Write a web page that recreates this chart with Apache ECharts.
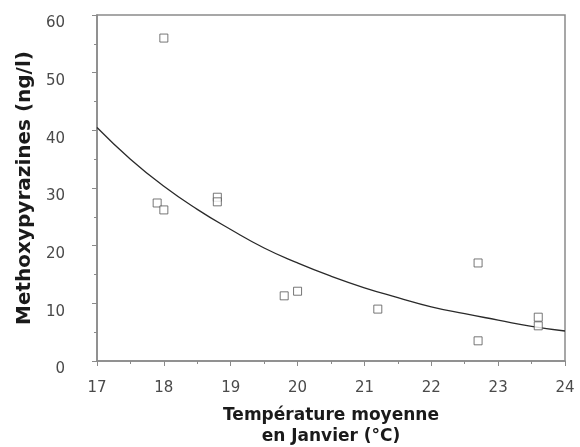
<!DOCTYPE html>
<html>
<head>
<meta charset="utf-8">
<script src="https://cdn.jsdelivr.net/npm/echarts@6/dist/echarts.min.js"></script>
<style>
  html, body { margin: 0; padding: 0; background: #fff; }
  #main { width: 580px; height: 447px; }
</style>
</head>
<body>
<div id="main"></div>
<script>
// measured points (temperature, methoxypyrazines)
const tempPts = [18.0, 17.9, 18.0, 18.8, 18.8, 19.8, 20.0, 21.2, 22.7, 22.7, 23.6, 23.6];
const mpPts   = [56.0, 27.4, 26.2, 28.4, 27.6, 11.3, 12.1, 9.0, 17.0, 3.5, 7.6, 6.1];

// fitted curve
const curveX = [17, 17.5, 18, 18.5, 19, 19.5, 20, 20.5, 21, 21.5, 22, 22.5, 23, 23.5, 24];
const curveY = [40.5, 35.0, 30.3, 26.3, 22.8, 19.6, 17.0, 14.7, 12.7, 11.0, 9.4, 8.2, 7.1, 6.0, 5.2];

const xTicks = [17, 18, 19, 20, 21, 22, 23, 24];
const yTicks = [0, 10, 20, 30, 40, 50, 60];

let chart = echarts.init(document.getElementById('main'));

const axisGray = '#8a8a8a';
const fontFam = '"DejaVu Sans", sans-serif';

let option = {
  animation: false,
  backgroundColor: '#fff',
  grid: {
    left: 97, right: 15, top: 15, bottom: 86,
    outerBoundsMode: 'none',
    containLabel: false,
    show: true, borderColor: axisGray, borderWidth: 1.5
  },
  xAxis: {
    type: 'value',
    min: xTicks[0], max: xTicks[xTicks.length - 1], interval: 1,
    name: 'Température moyenne\nen Janvier (°C)',
    nameLocation: 'middle',
    nameGap: 44,
    nameTextStyle: { fontFamily: fontFam, fontWeight: 'bold', fontSize: 17, color: '#1a1a1a', lineHeight: 21, verticalAlign: 'top' },
    axisLine: { lineStyle: { color: axisGray, width: 1.5 } },
    axisTick: { length: 5, lineStyle: { color: axisGray } },
    minorTick: { show: true, splitNumber: 2, length: 3, lineStyle: { color: axisGray } },
    splitLine: { show: false },
    axisLabel: { margin: 20, fontFamily: fontFam, fontSize: 15, color: '#4a4a4a' }
  },
  yAxis: {
    type: 'value',
    min: yTicks[0], max: yTicks[yTicks.length - 1], interval: 10,
    name: 'Methoxypyrazines (ng/l)',
    nameLocation: 'middle',
    nameGap: 58,
    nameTextStyle: { fontFamily: fontFam, fontWeight: 'bold', fontSize: 20, color: '#1a1a1a' },
    axisLine: { lineStyle: { color: axisGray, width: 1.5 } },
    axisTick: { length: 5, lineStyle: { color: axisGray } },
    minorTick: { show: true, splitNumber: 2, length: 3, lineStyle: { color: axisGray } },
    splitLine: { show: false },
    axisLabel: { margin: 32, verticalAlign: 'top', padding: [1, 0, 0, 0], fontFamily: fontFam, fontSize: 15, color: '#4a4a4a' }
  },
  series: [
    {
      type: 'line',
      data: curveX.map((x, i) => [x, curveY[i]]),
      smooth: true,
      showSymbol: false,
      lineStyle: { color: '#2a2a2a', width: 1.3 },
      z: 2
    },
    {
      type: 'scatter',
      data: tempPts.map((x, i) => [x, mpPts[i]]),
      symbol: 'rect',
      symbolSize: 8,
      itemStyle: { color: '#fff', borderColor: '#555', borderWidth: 1 },
      z: 3
    }
  ]
};

chart.setOption(option);
</script>
</body>
</html>
